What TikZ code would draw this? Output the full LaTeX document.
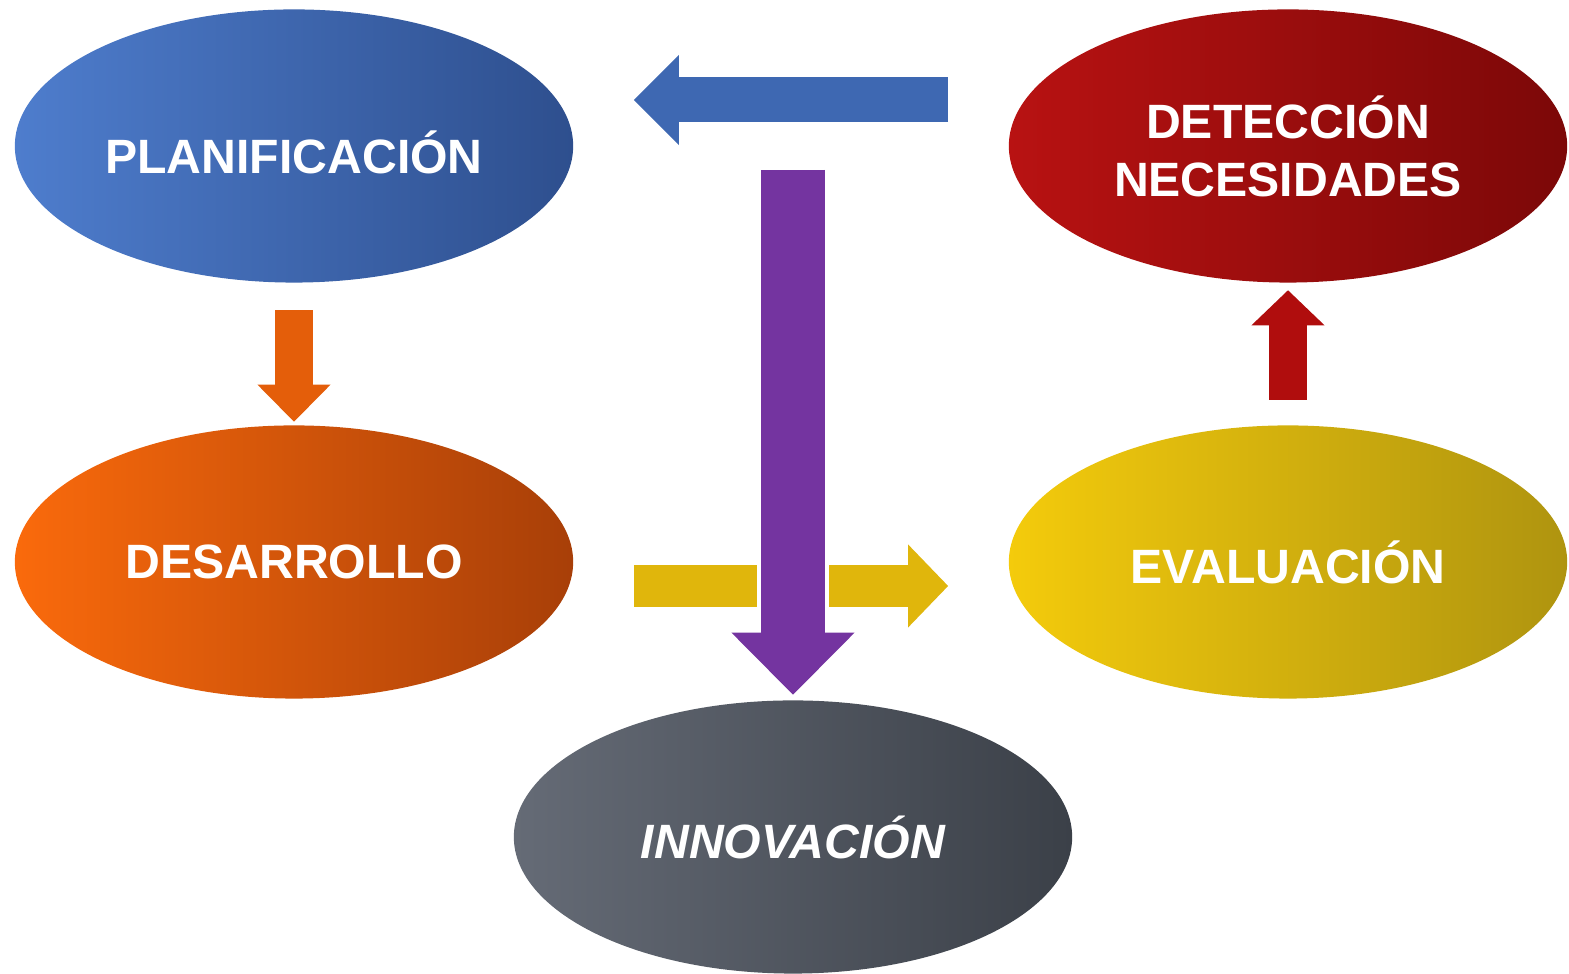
\documentclass[tikz,border=0pt]{standalone}
\usepackage{fontspec}
\setmainfont{Liberation Sans}
\usetikzlibrary{shapes.geometric,arrows.meta}

\definecolor{planL}{HTML}{4E7DCD}
\definecolor{planR}{HTML}{2E4F8E}
\definecolor{desL}{HTML}{FA6A0C}
\definecolor{desR}{HTML}{A83F08}
\definecolor{detL}{HTML}{B81212}
\definecolor{detR}{HTML}{7C0808}
\definecolor{evaL}{HTML}{F4CB0C}
\definecolor{evaR}{HTML}{AF940F}
\definecolor{innL}{HTML}{656B76}
\definecolor{innR}{HTML}{3B4048}
\definecolor{fAzul}{HTML}{3E68B2}
\definecolor{fNaranja}{HTML}{E45E0A}
\definecolor{fRojo}{HTML}{B00D0D}
\definecolor{fAmarillo}{HTML}{E0B60C}
\definecolor{fMorado}{HTML}{7434A0}

\begin{document}
\begin{tikzpicture}[x=0.01cm,y=-0.01cm,
  etapa/.style={ellipse,minimum width=5.58cm,minimum height=2.73cm,inner sep=0pt,
    text=white,align=center,font=\fontsize{13.7}{16.5}\selectfont\bfseries},
  flecha/.style n args={3}{line width=#1,
    -{Triangle[length=#2,width=#3,line width=0pt]}}]
\useasboundingbox (0,0) rectangle (1569,974);
%\draw (0,0) rectangle (1569,974);

\draw (294,146) node[etapa,text height=16pt,left color=planL,right color=planR] (plan) {PLANIFICACIÓN};
\draw (294,562) node[etapa,left color=desL,right color=desR] (des) {DESARROLLO};
\draw (1288,146) node[etapa,left color=detL,right color=detR] (det) {DETECCIÓN\\NECESIDADES};
\draw (1288,562) node[etapa,left color=evaL,right color=evaR] (eva) {EVALUACIÓN};
\draw (793,837) node[etapa,left color=innL,right color=innR] (inn) {\itshape INNOVACIÓN};

\coordinate (sal) at (inn.north |- 0,170);

\draw[fAzul,flecha={0.45cm}{0.45cm}{0.9cm},shorten <=0.6cm,shorten >=0.6cm]
  (det.west |- 0,100) -- (plan.east |- 0,100);
\draw[fNaranja,flecha={0.37cm}{0.37cm}{0.73cm},shorten <=0.27cm,shorten >=0.03cm]
  (plan.south) -- (des.north);
\draw[fRojo,flecha={0.38cm}{0.35cm}{0.73cm},shorten <=0.25cm,shorten >=0.07cm]
  (eva.north) -- (det.south);
\draw[fAmarillo,flecha={0.42cm}{0.4cm}{0.83cm},shorten <=0.6cm,shorten >=0.6cm]
  (des.east |- 0,586) -- (eva.west |- 0,586);
\draw[white,flecha={0.71cm}{0.72cm}{1.35cm},shorten <=-0.04cm] (sal) -- (inn.north);
\draw[fMorado,flecha={0.63cm}{0.62cm}{1.23cm},shorten >=0.05cm] (sal) -- (inn.north);
\end{tikzpicture}
\end{document}
